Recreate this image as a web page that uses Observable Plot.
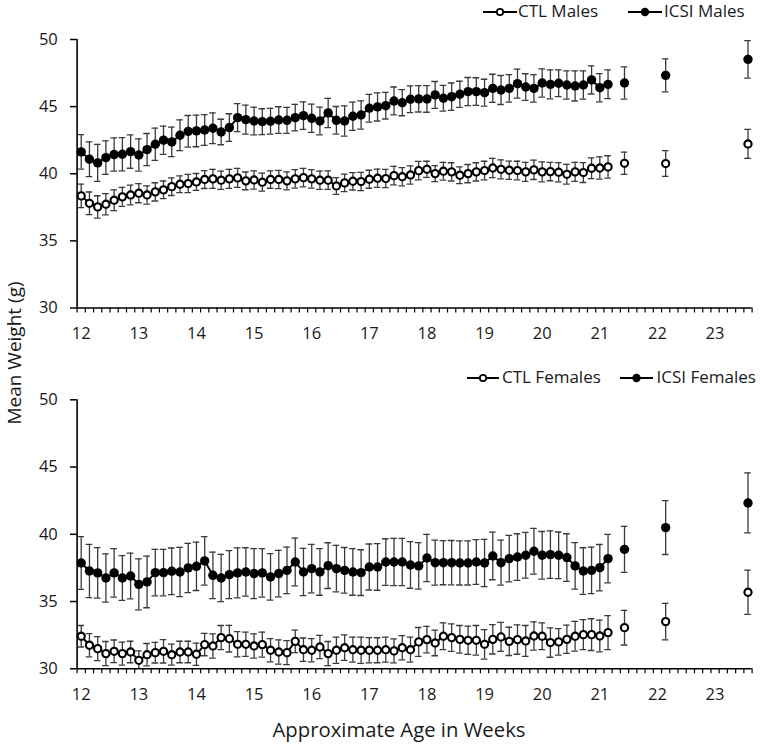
<!DOCTYPE html>
<html>
<head>
<meta charset="utf-8">
<script src="https://cdn.jsdelivr.net/npm/d3@7"></script>
<script src="https://cdn.jsdelivr.net/npm/@observablehq/plot@0.6"></script>
<style>
  html, body { margin: 0; padding: 0; background: #fff; }
  #wrap { position: relative; width: 760px; height: 746px; overflow: hidden; font-family: "Open Sans", sans-serif; color: #1a1a1a; }
  .panel { position: absolute; left: 0; }
  .legtext { position: absolute; font-size: 17px; line-height: 17px; white-space: nowrap; color: #1a1a1a; }
  .glyph { position: absolute; }
  #titles { position: absolute; left: 0; top: 0; pointer-events: none; }
</style>
</head>
<body>
<div id="wrap">
  <div id="topPanel" class="panel" style="top:0px"></div>
  <div id="botPanel" class="panel" style="top:360px"></div>

  <svg id="titles" width="760" height="746">
    <text x="20.5" y="353" transform="rotate(-90 20.5 353)" text-anchor="middle" font-family="Open Sans, sans-serif" font-size="19" fill="#1a1a1a">Mean Weight (g)</text>
    <text x="399" y="737" text-anchor="middle" font-family="Open Sans, sans-serif" font-size="20.3" fill="#1a1a1a">Approximate Age in Weeks</text>
  </svg>

  <!-- top legend -->
  <svg class="glyph" style="left:483px;top:5.5px" width="34" height="12"><line x1="0" x2="34" y1="6" y2="6" stroke="#000" stroke-width="2"/><circle cx="17" cy="6" r="3.2" fill="#fff" stroke="#000" stroke-width="1.8"/></svg>
  <div class="legtext" style="left:518px;top:2.2px">CTL Males</div>
  <svg class="glyph" style="left:627.5px;top:5.5px" width="34" height="12"><line x1="0" x2="34" y1="6" y2="6" stroke="#000" stroke-width="2"/><circle cx="17" cy="6" r="4.2" fill="#000"/></svg>
  <div class="legtext" style="left:664px;top:2.2px">ICSI Males</div>

  <!-- bottom legend -->
  <svg class="glyph" style="left:466.5px;top:371.7px" width="34" height="12"><line x1="0" x2="32" y1="6" y2="6" stroke="#000" stroke-width="2"/><circle cx="16" cy="6" r="3.2" fill="#fff" stroke="#000" stroke-width="1.8"/></svg>
  <div class="legtext" style="left:502px;top:368.2px">CTL Females</div>
  <svg class="glyph" style="left:620px;top:371.7px" width="34" height="12"><line x1="0" x2="33" y1="6" y2="6" stroke="#000" stroke-width="2"/><circle cx="16.5" cy="6" r="4.2" fill="#000"/></svg>
  <div class="legtext" style="left:656.5px;top:368.2px">ICSI Females</div>
</div>

<script>
// ---------------- data ----------------
// age in days (daily measurements, then three later weighings)
const days = [84,85,86,87,88,89,90,91,92,93,94,95,96,97,98,99,100,101,102,103,104,105,106,107,108,109,110,111,112,113,114,115,116,117,118,119,120,121,122,123,124,125,126,127,128,129,130,131,132,133,134,135,136,137,138,139,140,141,142,143,144,145,146,147,148,150,155,165];
const lastDailyDay = 148;
const weekTicks = [12,13,14,15,16,17,18,19,20,21,22,23];
const yTicks = [30,35,40,45,50];

const ctlMales = [38.35,37.8,37.53,37.73,38.03,38.28,38.42,38.55,38.42,38.65,
  38.8,39.04,39.22,39.27,39.39,39.57,39.62,39.52,39.62,39.69,
  39.47,39.54,39.37,39.57,39.57,39.47,39.62,39.71,39.62,39.52,
  39.52,39.09,39.32,39.44,39.42,39.59,39.67,39.64,39.86,39.78,
  39.91,40.23,
  40.33,40.01,40.19,40.14,39.89,40.01,40.14,40.24,40.43,40.33,
  40.26,40.24,40.14,40.29,40.14,40.16,40.11,39.96,40.14,40.09,
  40.41,40.43,40.51,
  40.78,40.76,42.22];
const ctlMalesErr = [0.87,0.84,0.83,0.79,0.77,0.71,0.74,0.71,0.68,0.68,
  0.66,0.66,0.62,0.68,0.63,0.67,0.71,0.68,0.71,0.71,
  0.66,0.68,0.67,0.65,0.68,0.67,0.69,0.69,0.69,0.68,
  0.69,0.62,0.65,0.65,0.68,0.67,0.68,0.68,0.69,0.68,
  0.68,0.69,
  0.6,0.6,0.66,0.68,0.62,0.68,0.68,0.69,0.72,0.71,
  0.68,0.69,0.71,0.72,0.74,0.68,0.72,0.74,0.71,0.74,
  0.77,0.83,0.83,
  0.83,0.96,1.08];

const icsiMales = [41.63,41.08,40.81,41.2,41.43,41.45,41.65,41.4,41.8,42.2,
  42.5,42.37,42.87,43.16,43.19,43.26,43.39,43.11,43.44,44.18,
  44.03,43.93,43.88,43.91,44.0,43.98,44.18,44.33,44.13,43.93,
  44.53,43.98,43.93,44.28,44.38,44.88,44.98,45.07,45.42,45.29,
  45.55,45.58,
  45.57,45.87,45.62,45.74,45.92,46.12,46.12,46.04,46.36,46.24,
  46.36,46.71,46.46,46.36,46.76,46.66,46.74,46.61,46.54,46.61,
  46.99,46.41,46.66,
  46.76,47.33,48.52];
const icsiMalesErr = [1.28,1.3,1.38,1.25,1.24,1.24,1.24,1.2,1.2,1.2,
  1.05,1.1,1.15,1.18,1.18,1.15,1.15,0.95,1.03,1.04,
  1.08,1.03,0.96,0.96,0.99,0.97,0.99,1.03,1.05,1.03,
  1.09,1.03,1.12,1.05,1.05,1.03,1.05,0.99,1.04,0.97,
  0.99,0.98,
  0.99,1.0,0.96,1.02,0.97,1.05,1.03,1.0,1.05,1.08,
  1.03,1.08,0.99,1.03,1.05,1.08,0.99,1.05,1.12,1.05,
  1.05,1.05,1.07,
  1.2,1.23,1.39];

const ctlFemales = [32.42,31.75,31.5,31.13,31.3,31.13,31.25,30.63,31.05,31.2,
  31.3,31.05,31.25,31.25,31.08,31.8,31.7,32.32,32.24,31.82,
  31.82,31.7,31.8,31.38,31.25,31.2,32.04,31.42,31.38,31.62,
  31.13,31.38,31.57,31.42,31.38,31.38,31.38,31.42,31.33,31.57,
  31.42,32.0,
  32.17,31.92,32.42,32.32,32.19,32.12,32.12,31.82,32.19,32.37,
  32.04,32.17,32.07,32.44,32.42,31.95,32.0,32.19,32.42,32.54,
  32.54,32.44,32.69,
  33.06,33.51,35.69];
const ctlFemalesErr = [0.8,0.87,0.89,0.9,0.84,0.86,0.8,0.7,0.83,0.77,
  0.87,0.78,0.8,0.8,0.83,0.83,0.9,0.9,0.99,0.94,
  0.9,0.9,0.93,0.87,0.9,0.89,0.83,0.87,0.87,0.87,
  0.9,0.97,0.95,0.93,0.97,0.94,0.93,0.93,0.89,0.9,
  0.93,1.07,
  0.99,0.95,0.99,1.02,1.03,1.05,1.1,1.1,1.09,1.08,
  1.05,1.09,1.15,1.05,0.99,1.09,0.99,1.05,1.1,1.12,
  1.18,1.18,1.27,
  1.29,1.36,1.64];

const icsiFemales = [37.87,37.27,37.13,36.75,37.13,36.75,36.9,36.28,36.46,37.15,
  37.15,37.25,37.2,37.5,37.62,38.02,36.95,36.75,37.0,37.13,
  37.2,37.08,37.13,36.83,37.08,37.32,37.94,37.2,37.45,37.2,
  37.67,37.45,37.32,37.2,37.15,37.57,37.57,37.94,37.94,37.94,
  37.72,37.65,
  38.24,37.89,37.89,37.89,37.87,37.87,37.94,37.87,38.39,37.89,
  38.19,38.31,38.44,38.74,38.44,38.49,38.44,38.27,37.65,37.27,
  37.32,37.52,38.19,
  38.88,40.5,42.33];
const icsiFemalesErr = [1.96,1.98,1.88,1.8,1.8,1.67,1.7,1.9,1.92,1.73,
  1.73,1.73,1.83,1.83,1.8,1.8,1.73,1.76,1.78,1.86,
  1.8,1.86,1.8,1.73,1.73,1.73,1.78,1.76,1.8,1.73,
  1.7,1.73,1.7,1.73,1.7,1.71,1.73,1.73,1.76,1.76,
  1.73,1.73,
  1.76,1.67,1.64,1.65,1.64,1.64,1.67,1.76,1.77,1.67,
  1.73,1.73,1.7,1.7,1.77,1.77,1.73,1.77,1.73,1.73,
  1.73,1.72,1.8,
  1.71,2.0,2.23];

// ---------------- build rows ----------------
function rowsFor(name, open, means, errs) {
  return days.map((d, i) => ({series: name, open, day: d, age: d / 7, mean: means[i], se: errs[i], daily: d <= lastDailyDay}));
}
const maleRows = [...rowsFor("CTL Males", true, ctlMales, ctlMalesErr), ...rowsFor("ICSI Males", false, icsiMales, icsiMalesErr)];
const femaleRows = [...rowsFor("CTL Females", true, ctlFemales, ctlFemalesErr), ...rowsFor("ICSI Females", false, icsiFemales, icsiFemalesErr)];

const xMin = (days[0] - 0.5) / 7;
const xMax = (days[days.length - 1] + 0.5) / 7;
const minorTicks = d3.range(days[0] - 0.5, days[days.length - 1] + 1, 1).map(d => d / 7);

const errColor = "#3a3a3a";

function panel(rows, {height, marginTop, marginBottom}) {
  return Plot.plot({
    width: 760,
    height,
    marginLeft: 76.6,
    marginRight: 8.4,
    marginTop,
    marginBottom,
    style: {fontFamily: '"Open Sans", sans-serif', fontSize: "16px", color: "#1a1a1a", background: "transparent", overflow: "visible"},
    x: {domain: [xMin, xMax]},
    y: {domain: [30, 50]},
    marks: [
      // error bars
      Plot.ruleX(rows, {x: "age", y1: d => d.mean - d.se, y2: d => d.mean + d.se, stroke: errColor, strokeWidth: 1.3, clip: true}),
      Plot.ruleY(rows, {x1: "age", x2: "age", y: d => d.mean + d.se, insetLeft: -3.3, insetRight: -3.3, stroke: errColor, strokeWidth: 1.3, clip: true}),
      Plot.ruleY(rows, {x1: "age", x2: "age", y: d => d.mean - d.se, insetLeft: -3.3, insetRight: -3.3, stroke: errColor, strokeWidth: 1.3, clip: true}),
      // connecting lines (daily section only)
      Plot.lineY(rows.filter(d => d.daily), {x: "age", y: "mean", z: "series", stroke: "#000", strokeWidth: 1.9}),
      // markers
      Plot.dot(rows.filter(d => !d.open), {x: "age", y: "mean", r: 4.7, fill: "#000", stroke: "none"}),
      Plot.dot(rows.filter(d => d.open), {x: "age", y: "mean", r: 3.6, fill: "#fff", stroke: "#000", strokeWidth: 2.1}),
      // axes
      Plot.axisY({ticks: yTicks, tickSize: 6.6, tickPadding: 12.7, tickFormat: d => String(d), label: null, stroke: "#000", strokeWidth: 1.5, fontSize: 16.5}),
      Plot.axisX({ticks: minorTicks, tickSize: 5, tickFormat: () => "", label: null, stroke: "#000", strokeWidth: 1.2}),
      Plot.axisX({ticks: weekTicks, tickSize: 0, tickPadding: 19.5, tickFormat: d => String(d), label: null, fontSize: 16.5}),
      Plot.ruleX([xMin], {stroke: "#000", strokeWidth: 1.6}),
      Plot.ruleY([30], {stroke: "#000", strokeWidth: 1.6})
    ]
  });
}

document.getElementById("topPanel").appendChild(panel(maleRows, {height: 340, marginTop: 39, marginBottom: 32.5}));
document.getElementById("botPanel").appendChild(panel(femaleRows, {height: 345, marginTop: 39.3, marginBottom: 36.7}));
</script>
</body>
</html>
